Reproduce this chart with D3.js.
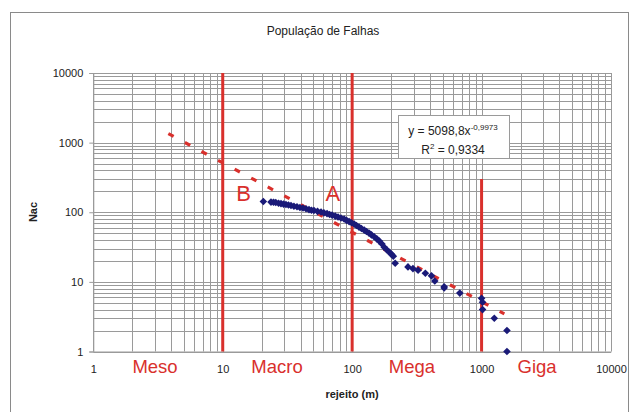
<!DOCTYPE html>
<html><head><meta charset="utf-8">
<script src="https://cdn.jsdelivr.net/npm/d3@7"></script>
<style>body{margin:0;background:#fff;font-family:"Liberation Sans",Arial,sans-serif}</style>
</head><body><svg id="c" width="631" height="412"></svg>
<script>
// Data (rejeito in m, Nac)
const rejeito = [20.6,23.6,24.7,25.7,27,28.2,29.5,30.8,32.2,33.7,35.5,37.5,39.5,41.7,44,46.4,48.5,50.7,54,57.5,60.5,64,67,70,74,77.8,82,86.7,90.5,94.8,99,103.7,108,113,118,124,129,135,141,148,155,162,170,177,185,194,201,208,215,270,295,323,368,410,435,514,514,679,1000,1018,1018,1254,1571,1571];
const nac =     [143,140,139,138,135,133,131,129,127,125,122,120,117,115,112,109,107,106,103,101,98,95.7,93,91,88,85.3,82.5,79.8,76.5,73.4,70.5,67.6,64.5,61.2,58.3,55.4,52.8,50.2,47.3,44.4,41.5,38.5,35,31.5,29,26.7,25,23.4,18.5,16.4,15.5,14.7,13.3,12.2,10.3,8.5,8.2,6.9,5.8,5.1,4.0,3.0,2.0,1.0];
const trendCoef = [5098.8, -0.9973];
const trendRange = [3.8, 1500];
const xTicks = [1,10,100,1000,10000];
const yTicks = [1,10,100,1000,10000];
const zoneBounds = [10,100,1000];
const zoneTops = [10000,10000,300];
const zoneLabels = ["Meso","Macro","Mega","Giga"];
const zoneLabelX = [3.0,26.3,290,2685];
const pointLabels = ["B","A"];
const pointLabelX = [14.5,71];
const pointLabelY = [145,145];

const svg = d3.select("#c");
const red = "#d9302c", grid = "#9a9a9a", navy = "#1a1a78";
const x = d3.scaleLog().domain([1,10000]).range([93.3,611]);
const y = d3.scaleLog().domain([1,10000]).range([351.5,73]);

// outer frame
svg.append("rect").attr("x",10.5).attr("y",12.5).attr("width",618).attr("height",420)
  .attr("fill","none").attr("stroke","#8a8a8a").attr("stroke-width",1);

svg.append("text").attr("x",323).attr("y",35).attr("text-anchor","middle")
  .attr("font-size",12).attr("fill","#222").text("População de Falhas");

// grid lines
const minors = [];
for (let d=1; d<10000; d*=10) for (let k=1;k<=10;k++) minors.push(d*k);
const gx = svg.append("g");
gx.selectAll("line.v").data(minors).join("line")
  .attr("x1",d=>Math.round(x(d))+0.5).attr("x2",d=>Math.round(x(d))+0.5)
  .attr("y1",y(1)).attr("y2",y(10000)).attr("stroke",grid).attr("stroke-width",1);
gx.selectAll("line.h").data(minors).join("line")
  .attr("y1",d=>Math.round(y(d))+0.5).attr("y2",d=>Math.round(y(d))+0.5)
  .attr("x1",x(1)).attr("x2",x(10000)).attr("stroke",grid).attr("stroke-width",1);

// y axis
const ya = svg.append("g").attr("transform",`translate(${x(1)},0)`)
  .call(d3.axisLeft(y).tickValues(yTicks).tickFormat(d3.format("d")).tickSize(4).tickPadding(6));
ya.select(".domain").attr("stroke",grid);
ya.selectAll(".tick line").attr("stroke",grid);
ya.selectAll("text").attr("font-size",11).attr("fill","#222").attr("font-family","Liberation Sans, Arial");
// x axis labels
const xa = svg.append("g").attr("transform",`translate(0,${y(1)})`)
  .call(d3.axisBottom(x).tickValues(xTicks).tickFormat(d3.format("d")).tickSize(0).tickPadding(14));
xa.select(".domain").attr("stroke",grid);
xa.selectAll("text").attr("font-size",11).attr("fill","#222").attr("font-family","Liberation Sans, Arial");

// zone boundaries
svg.selectAll("line.zone").data(zoneBounds).join("line")
  .attr("x1",d=>x(d)).attr("x2",d=>x(d)).attr("y1",y(1)).attr("y2",(d,i)=>y(zoneTops[i]))
  .attr("stroke",red).attr("stroke-width",3);

// trendline (power fit)
const tline = d3.line().x(d=>x(d[0])).y(d=>y(d[1]));
svg.append("path").datum(trendRange.map(v=>[v, trendCoef[0]*Math.pow(v,trendCoef[1])]))
  .attr("d",tline).attr("stroke",red).attr("stroke-width",3.2).attr("fill","none")
  .attr("stroke-dasharray","6,12.8");

// data points
svg.append("g").selectAll("path").data(rejeito).join("path")
  .attr("d",(d,i)=>{const cx=x(d), cy=y(nac[i]), r=3.8; return `M${cx},${cy-r}L${cx+r},${cy}L${cx},${cy+r}L${cx-r},${cy}Z`;})
  .attr("fill",navy);

// labels
svg.selectAll("text.zl").data(zoneLabels).join("text")
  .attr("x",(d,i)=>x(zoneLabelX[i])).attr("y",373).attr("text-anchor","middle")
  .attr("font-size",18.5).attr("fill",red).text(d=>d);
svg.selectAll("text.pl").data(pointLabels).join("text")
  .attr("x",(d,i)=>x(pointLabelX[i])).attr("y",(d,i)=>y(pointLabelY[i])).attr("text-anchor","middle")
  .attr("font-size",22).attr("fill",red).text(d=>d);

svg.append("text").attr("x",352).attr("y",398).attr("text-anchor","middle")
  .attr("font-size",11).attr("font-weight","bold").attr("fill","#222").text("rejeito (m)");
svg.append("text").attr("transform","translate(37,212) rotate(-90)").attr("text-anchor","middle")
  .attr("font-size",11).attr("font-weight","bold").attr("fill","#222").text("Nac");

// equation box
svg.append("rect").attr("x",398.5).attr("y",115.5).attr("width",111).attr("height",43)
  .attr("fill","#fff").attr("stroke","#9a9a9a");
const eq = svg.append("text").attr("x",453).attr("y",135).attr("text-anchor","middle")
  .attr("font-size",12).attr("fill","#222");
eq.append("tspan").text("y = 5098,8x");
eq.append("tspan").attr("font-size",8).attr("dy",-5).text("-0,9973");
const r2 = svg.append("text").attr("x",453).attr("y",154).attr("text-anchor","middle")
  .attr("font-size",12).attr("fill","#222");
r2.append("tspan").text("R");
r2.append("tspan").attr("font-size",8).attr("dy",-5).text("2");
r2.append("tspan").attr("dy",5).text(" = 0,9334");
</script></body></html>
